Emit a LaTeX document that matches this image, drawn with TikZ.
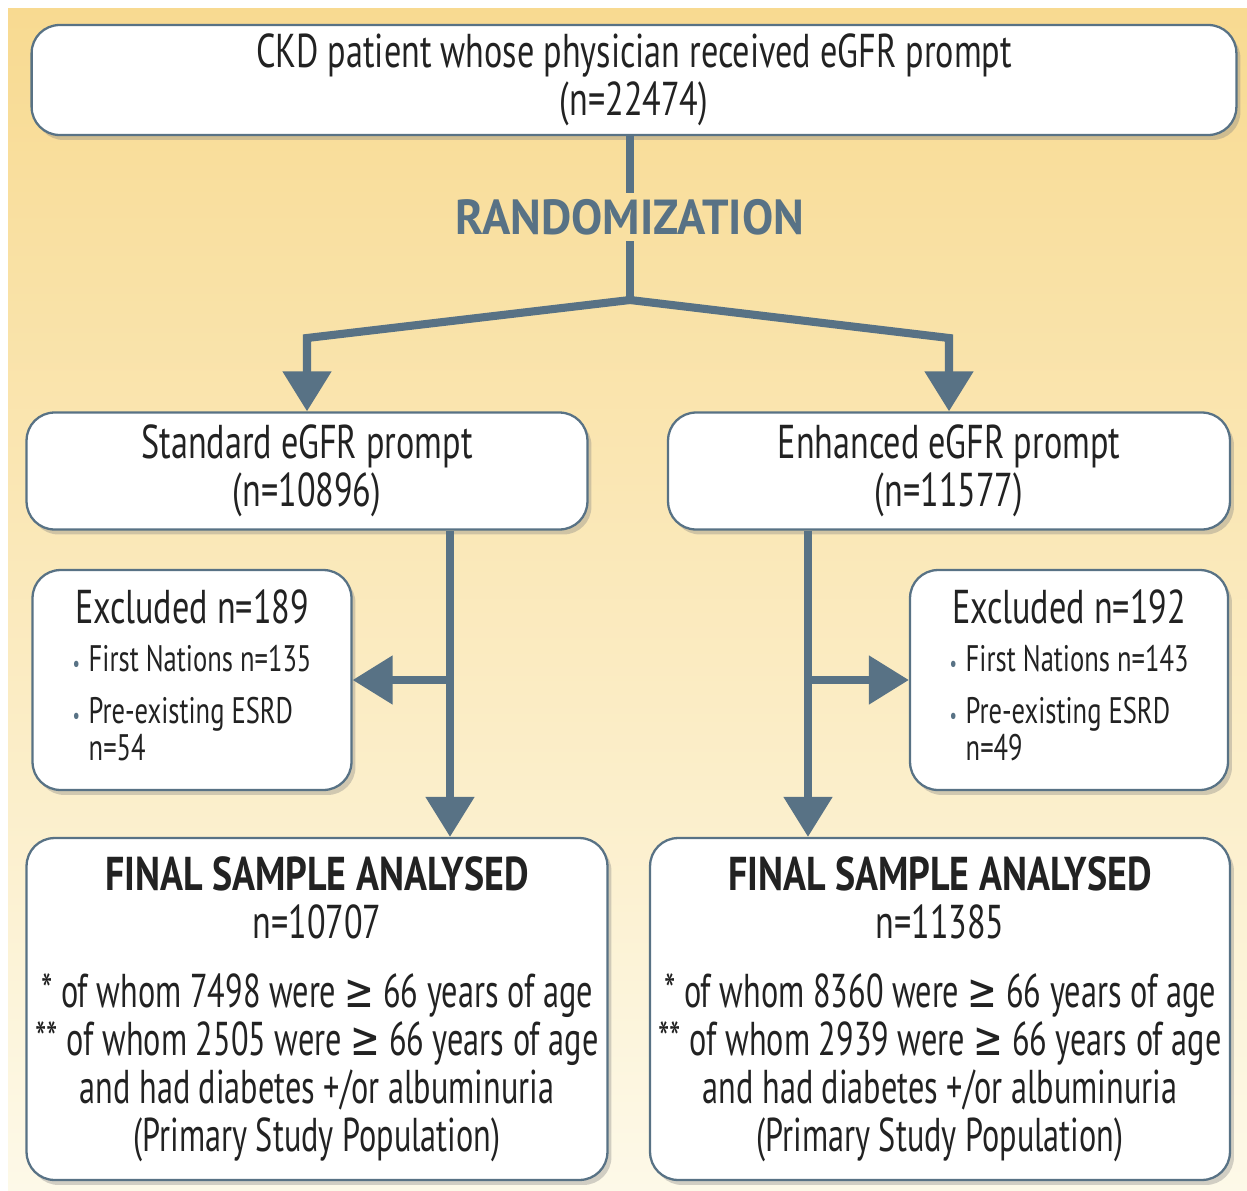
\documentclass[tikz,border=0pt]{standalone}
\usepackage{fontspec}
\setmainfont{PT Sans}[FakeStretch=0.72]
\newfontfamily\randfont{PT Sans}[FakeStretch=0.95]
\newfontfamily\finalfont{PT Sans}[FakeStretch=0.8]
\newfontfamily\narrowfont{PT Sans}[FakeStretch=0.68]
\newfontfamily\symfont{DejaVu Sans}[FakeStretch=0.75]
\usepackage{xcolor}
\usetikzlibrary{shadows,arrows.meta}

\definecolor{slate}{RGB}{88,114,133}
\definecolor{inkgray}{RGB}{34,34,34}
\definecolor{bgtop}{RGB}{248,218,145}
\definecolor{bgbottom}{RGB}{253,249,232}

\newcommand{\geqs}{{\symfont ≥}}
\newcommand{\bul}{{\color{slate}\fontsize{13}{13}\selectfont\textbullet}}

\tikzset{
  flowbox/.style={draw=slate, line width=1.3pt, fill=white, rounded corners=0.56cm,
    align=center, text=inkgray,
    drop shadow={opacity=0.35, shadow xshift=0.08cm, shadow yshift=-0.1cm}},
  flow/.style={draw=slate, line width=4.6pt, -{Triangle[width=0.94cm,length=0.8cm]}},
  flowline/.style={draw=slate, line width=4.6pt},
}

\begin{document}
\begin{tikzpicture}[x=0.02cm, y=-0.02cm, font=\fontsize{27}{27.3}\selectfont]
  % page and yellow panel
  \useasboundingbox (0,0) rectangle (1247,1190);
  \shade[top color=bgtop, bottom color=bgbottom] (8,8) rectangle (1247,1190);

  % boxes
  \node[flowbox, minimum width=24.1cm, minimum height=2.2cm] (ckd) at (634,80)
    {CKD patient whose physician received eGFR prompt\\(n=22474)};
  \node[text=slate, font=\randfont\bfseries\fontsize{28}{28}\selectfont] (rand) at (630,217) {RANDOMIZATION};

  \node[flowbox, minimum width=11.22cm, minimum height=2.34cm] (std) at (307,471)
    {Standard eGFR prompt\\(n=10896)};
  \node[flowbox, minimum width=11.24cm, minimum height=2.34cm] (enh) at (949,471)
    {Enhanced eGFR prompt\\(n=11577)};

  \node[flowbox, minimum width=6.38cm, minimum height=4.4cm] (exL) at (192,680)
    {Excluded n=189\\[11pt]
     {\fontsize{21}{19}\selectfont\begin{tabular}{@{}l@{\hspace{5pt}}l@{}}
       \bul & First Nations n=135\\[9pt]
       \bul & Pre-existing ESRD\\
            & n=54
     \end{tabular}}};
  \node[flowbox, minimum width=6.36cm, minimum height=4.4cm] (exR) at (1069,680)
    {Excluded n=192\\[11pt]
     {\fontsize{21}{19}\selectfont\begin{tabular}{@{}l@{\hspace{5pt}}l@{}}
       \bul & First Nations n=143\\[9pt]
       \bul & Pre-existing ESRD\\
            & n=49
     \end{tabular}}};

  \node[flowbox, minimum width=11.62cm, minimum height=6.84cm] (finL) at (317,1009)
    {{\finalfont\bfseries FINAL SAMPLE ANALYSED}\\
     n=10707\\[12pt]
     {\narrowfont * of whom 7498 were \geqs{} 66 years of age}\\
     {\narrowfont ** of whom 2505 were \geqs{} 66 years of age}\\
     {\narrowfont and had diabetes +/or albuminuria}\\
     {\narrowfont (Primary Study Population)}};
  \node[flowbox, minimum width=11.6cm, minimum height=6.84cm] (finR) at (940,1009)
    {{\finalfont\bfseries FINAL SAMPLE ANALYSED}\\
     n=11385\\[12pt]
     {\narrowfont * of whom 8360 were \geqs{} 66 years of age}\\
     {\narrowfont ** of whom 2939 were \geqs{} 66 years of age}\\
     {\narrowfont and had diabetes +/or albuminuria}\\
     {\narrowfont (Primary Study Population)}};

  % randomization split
  \coordinate (split) at (630,300);
  \draw[flowline] (ckd.south -| rand) -- (rand.north);
  \draw[flowline] (rand.south) -- (split);
  \draw[flow] (split) -- (307,338) -- (std.north);
  \draw[flow] (split) -- (949,338) -- (enh.north);

  % exclusions
  \coordinate (jL) at (450,680);
  \coordinate (jR) at (808,680);
  \draw[flow] (std.south -| jL) -- (finL.north -| jL);
  \draw[flow] (jL) -- (exL);
  \draw[flow] (enh.south -| jR) -- (finR.north -| jR);
  \draw[flow] (jR) -- (exR);
\end{tikzpicture}
\end{document}
